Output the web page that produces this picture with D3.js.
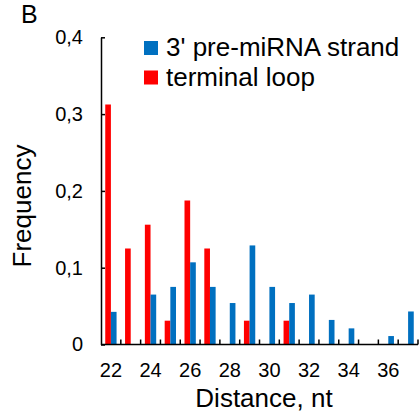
<!DOCTYPE html>
<html>
<head>
<meta charset="utf-8">
<script src="https://d3js.org/d3.v7.min.js"></script>
<style>
  body { margin: 0; background: #fff; }
  svg { display: block; font-family: "Liberation Sans", Arial, sans-serif; }
  .axis path, .axis line { stroke: #000; stroke-width: 1.5px; }
  .axis text { font-size: 20px; fill: #000; font-family: "Liberation Sans", Arial, sans-serif; }
</style>
</head>
<body>
<div id="chart"></div>
<script>
// distances (nt)
const distances = [22, 23, 24, 25, 26, 27, 28, 29, 30, 31, 32, 33, 34, 35, 36, 37];
const xTickLabels = [22, 24, 26, 28, 30, 32, 34, 36];
const yTicks = [0, 0.1, 0.2, 0.3, 0.4];
const seriesNames = ["terminal loop", "3' pre-miRNA strand"];
const terminalLoop = [0.3125, 0.125, 0.156, 0.031, 0.1875, 0.125, 0, 0.031, 0, 0.031, 0, 0, 0, 0, 0, 0];
const strand3p = [0.0425, 0, 0.065, 0.075, 0.107, 0.075, 0.054, 0.129, 0.075, 0.054, 0.065, 0.032, 0.021, 0, 0.011, 0.043];
const colors = {"terminal loop": "#ff0000", "3' pre-miRNA strand": "#0070c0"};

const width = 419, height = 412;
const plotLeft = 101, plotRight = 418, plotTop = 37.3, plotBottom = 344.5;

const svg = d3.select("#chart").append("svg")
  .attr("width", width)
  .attr("height", height);

const x = d3.scaleBand()
  .domain(distances)
  .range([plotLeft, plotRight])
  .padding(0);

const inner = d3.scaleBand()
  .domain(seriesNames)
  .range([0, x.bandwidth()])
  .paddingInner(0)
  .paddingOuter(0.75);

const y = d3.scaleLinear()
  .domain([0, 0.4])
  .range([plotBottom, plotTop]);

const rows = distances.map((d, i) => ({
  d: d,
  vals: [
    {s: "terminal loop", v: terminalLoop[i]},
    {s: "3' pre-miRNA strand", v: strand3p[i]}
  ]
}));

// bars
svg.append("g").selectAll("g")
  .data(rows)
  .enter().append("g")
  .attr("transform", r => "translate(" + x(r.d) + ",0)")
  .selectAll("rect")
  .data(r => r.vals.filter(o => o.v > 0))
  .enter().append("rect")
  .attr("x", o => inner(o.s))
  .attr("width", inner.bandwidth())
  .attr("y", o => y(o.v))
  .attr("height", o => plotBottom - y(o.v))
  .attr("fill", o => colors[o.s]);

// y axis, ticks pointing inward
svg.append("g")
  .attr("class", "axis")
  .attr("transform", "translate(" + plotLeft + ",0)")
  .call(d3.axisLeft(y)
    .tickValues(yTicks)
    .tickSizeInner(-4)
    .tickSizeOuter(0)
    .tickPadding(18)
    .tickFormat(v => v === 0 ? "0" : d3.format(".1f")(v).replace(".", ",")));

// x axis line + labels at band centers
const xAxis = svg.append("g")
  .attr("class", "axis")
  .attr("transform", "translate(0," + plotBottom + ")")
  .call(d3.axisBottom(x)
    .tickValues(xTickLabels)
    .tickSize(0)
    .tickPadding(18));
xAxis.select(".domain").attr("d", "M" + plotLeft + ",0H" + plotRight);

// small inward ticks at category boundaries
xAxis.selectAll(".bound")
  .data(distances)
  .enter().append("line")
  .attr("class", "bound")
  .attr("x1", d => x(d) + x.bandwidth())
  .attr("x2", d => x(d) + x.bandwidth())
  .attr("y1", 0)
  .attr("y2", -5)
  .attr("stroke", "#000")
  .attr("stroke-width", 1.5);

// axis titles
svg.append("text")
  .attr("x", 264)
  .attr("y", 407)
  .attr("text-anchor", "middle")
  .attr("font-size", 26)
  .text("Distance, nt");

svg.append("text")
  .attr("transform", "translate(31,206) rotate(-90)")
  .attr("text-anchor", "middle")
  .attr("font-size", 26)
  .text("Frequency");

// panel letter
svg.append("text")
  .attr("x", 21)
  .attr("y", 23)
  .attr("font-size", 25)
  .text("B");

// legend
const legendOrder = ["3' pre-miRNA strand", "terminal loop"];
const leg = svg.append("g").selectAll("g")
  .data(legendOrder)
  .enter().append("g")
  .attr("transform", (d, i) => "translate(144," + (41 + i * 29.5) + ")");
leg.append("rect")
  .attr("width", 14)
  .attr("height", 14)
  .attr("fill", d => colors[d]);
leg.append("text")
  .attr("x", 22)
  .attr("y", 15)
  .attr("font-size", 26)
  .text(d => d);
</script>
</body>
</html>
